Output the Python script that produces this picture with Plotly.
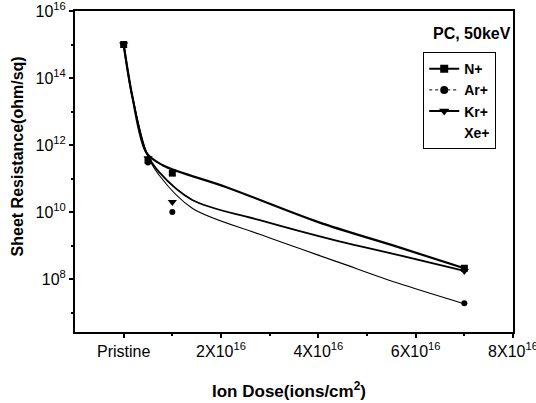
import plotly.graph_objects as go

# ---- data ----
ions = ["N+", "Ar+", "Kr+", "Xe+"]
symbols = ["square", "circle", "triangle-down", None]

# measured points (dose in ions/cm^2, resistance in ohm/sq)
n_dose = [0, 0.5e16, 1.0e16, 7.0e16]
n_res = [1.0e15, 3.5e11, 1.45e11, 2.1e8]
ar_dose = [0.5e16, 1.0e16, 7.0e16]
ar_res = [3.0e11, 1.0e10, 1.9e7]
kr_dose = [0, 0.5e16, 1.0e16, 7.0e16]
kr_res = [1.0e15, 4.0e11, 2.0e10, 1.75e8]

# fitted curves
n_fit_dose = [0, 0.18e16, 0.47e16, 0.8e16, 2.1e16, 4.0e16, 5.63e16, 7.0e16]
n_fit_res = [1.0e15, 2.7e13, 5.8e11, 2.5e11, 5.6e10, 5.0e9, 9.1e8, 2.1e8]
kr_fit_dose = [0, 0.18e16, 0.47e16, 0.73e16, 1.41e16, 2.78e16, 4.41e16, 5.63e16, 7.0e16]
kr_fit_res = [1.0e15, 2.7e13, 5.8e11, 1.55e11, 2.3e10, 5.8e9, 1.35e9, 5.3e8, 1.75e8]
ar_fit_dose = [0, 0.18e16, 0.47e16, 0.73e16, 1.41e16, 2.78e16, 4.41e16, 5.63e16, 6.96e16]
ar_fit_res = [1.0e15, 2.7e13, 5.8e11, 1.25e11, 1.3e10, 2.2e9, 3.2e8, 7.6e7, 1.9e7]

x_tickvals = [0, 2e16, 4e16, 6e16, 8e16]
x_ticktext = ["Pristine", "2X10<sup>16</sup>", "4X10<sup>16</sup>", "6X10<sup>16</sup>", "8X10<sup>16</sup>"]
x_minor = [1e16, 3e16, 5e16, 7e16]
y_tickvals = [1e8, 1e10, 1e12, 1e14, 1e16]
y_ticktext = ["10<sup>8</sup>", "10<sup>10</sup>", "10<sup>12</sup>", "10<sup>14</sup>", "10<sup>16</sup>"]
y_minor = [1e7, 1e9, 1e11, 1e13, 1e15]

FONT = "Liberation Sans, Arial, sans-serif"

fig = go.Figure()

# fitted curves
fig.add_trace(go.Scatter(x=n_fit_dose, y=n_fit_res, mode="lines", line=dict(color="black", width=2.2, shape="spline", smoothing=0.9), showlegend=False, hoverinfo="skip"))
fig.add_trace(go.Scatter(x=kr_fit_dose, y=kr_fit_res, mode="lines", line=dict(color="black", width=1.8, shape="spline", smoothing=0.9), showlegend=False, hoverinfo="skip"))
fig.add_trace(go.Scatter(x=ar_fit_dose, y=ar_fit_res, mode="lines", line=dict(color="black", width=1.1, shape="spline", smoothing=0.9), showlegend=False, hoverinfo="skip"))

# measured markers
fig.add_trace(go.Scatter(x=n_dose, y=n_res, mode="markers", marker=dict(symbol="square", size=7, color="black"), showlegend=False))
fig.add_trace(go.Scatter(x=ar_dose, y=ar_res, mode="markers", marker=dict(symbol="circle", size=6, color="black"), showlegend=False))
fig.add_trace(go.Scatter(x=kr_dose, y=kr_res, mode="markers", marker=dict(symbol="triangle-down", size=8, color="black"), showlegend=False))

# legend entries
fig.add_trace(go.Scatter(x=[None], y=[None], mode="lines+markers", name=ions[0],
                         line=dict(color="black", width=2), marker=dict(symbol=symbols[0], size=8, color="black")))
fig.add_trace(go.Scatter(x=[None], y=[None], mode="lines+markers", name=ions[1],
                         line=dict(color="black", width=1, dash="dot"), marker=dict(symbol=symbols[1], size=8, color="black")))
fig.add_trace(go.Scatter(x=[None], y=[None], mode="lines+markers", name=ions[2],
                         line=dict(color="black", width=2), marker=dict(symbol=symbols[2], size=9, color="black")))
fig.add_trace(go.Scatter(x=[None], y=[None], mode="lines", name=ions[3],
                         line=dict(color="rgba(0,0,0,0)", width=1)))

fig.update_layout(
    width=536, height=403,
    margin=dict(l=75, r=23, t=11, b=71),
    paper_bgcolor="white", plot_bgcolor="white",
    font=dict(family=FONT, color="black", size=16),
    legend=dict(x=0.795, y=0.872, xanchor="left", yanchor="top",
                bordercolor="black", borderwidth=1, bgcolor="white",
                font=dict(family=FONT, size=14, color="black", weight="bold"),
                tracegroupgap=0, itemwidth=30),
    annotations=[
        dict(text="<b>PC, 50keV</b>", x=1.0, y=0.93, xref="paper", yref="paper",
             xanchor="right", yanchor="middle", showarrow=False,
             font=dict(family=FONT, size=16, color="black")),
        dict(text="<b>Sheet Resistance(ohm/sq)</b>", x=(17 - 75) / 438, y=0.547, xref="paper", yref="paper",
             xanchor="center", yanchor="middle", showarrow=False, textangle=-90,
             font=dict(family=FONT, size=16, color="black")),
        dict(text="<b>Ion Dose(ions/cm<sup>2</sup>)</b>", x=(289 - 75) / 438, y=-(390 - 332) / 321,
             xref="paper", yref="paper", xanchor="center", yanchor="middle", showarrow=False,
             font=dict(family=FONT, size=17, color="black")),
    ],
)

fig.update_xaxes(
    range=[-1e16, 8e16], tickvals=x_tickvals, ticktext=x_ticktext,
    ticks="outside", ticklen=4, tickwidth=1.5, tickcolor="black",
    minor=dict(tickvals=x_minor, ticks="outside", ticklen=2, tickcolor="black"),
    showline=True, linecolor="black", linewidth=2, mirror=True, showgrid=False, zeroline=False,
    tickfont=dict(size=16, family=FONT), automargin=False, ticklabeloverflow="allow",
)
fig.update_yaxes(
    type="log", range=[6.42, 16], tickvals=y_tickvals, ticktext=y_ticktext,
    ticks="outside", ticklen=4, tickwidth=1.5, tickcolor="black",
    minor=dict(tickvals=y_minor, ticks="outside", ticklen=2, tickcolor="black"),
    showline=True, linecolor="black", linewidth=2, mirror=True, showgrid=False, zeroline=False,
    tickfont=dict(size=16, family=FONT), automargin=False, ticklabeloverflow="allow",
)

fig.write_html("out.html", config={"displayModeBar": False},
               post_script="document.body.style.margin='0';document.body.style.overflow='hidden';")
